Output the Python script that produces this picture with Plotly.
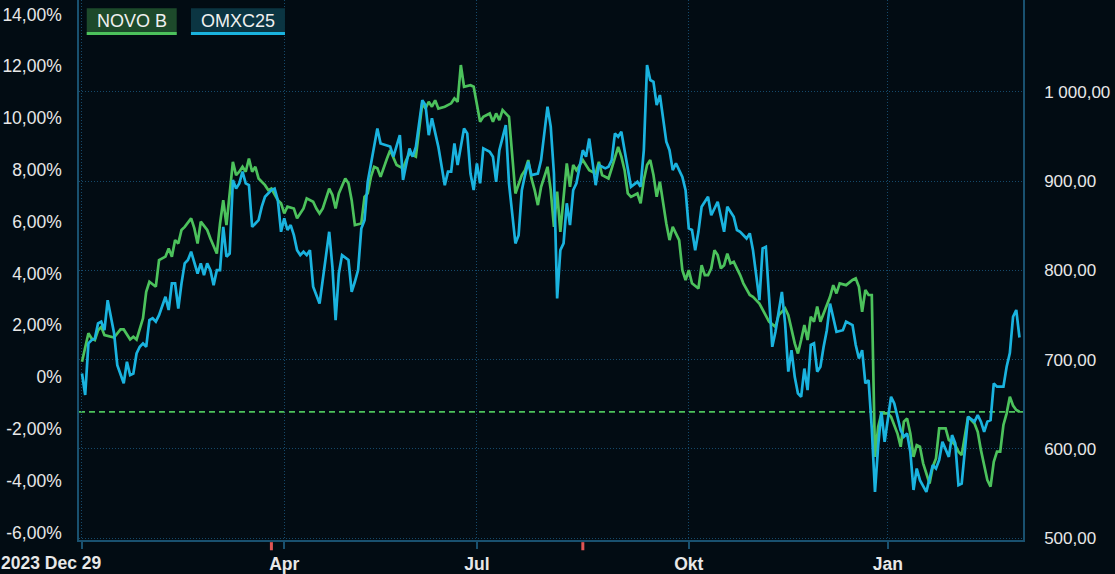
import plotly.graph_objects as go

# ---------------- data (trading-day index since 2023-12-29, % change) ----------------
novo_days = [0, 2, 3, 4, 5, 6, 7, 10, 12, 13, 15, 16, 17, 19, 20, 21, 23, 24, 26, 27, 28, 29, 30, 31, 32,
             34, 35, 36, 37, 39, 40, 42, 43, 44, 45, 47, 48, 49, 50, 51, 52, 53, 54, 55, 57, 58, 59, 60,
             61, 62, 63, 64, 66, 67, 69, 70, 72, 73, 74, 75, 77, 78, 79, 80, 82, 83, 84, 85, 87, 88, 89,
             90, 91, 92, 93, 95, 96, 98, 100, 101, 102, 104, 105, 106, 107, 108, 109, 110, 111, 113, 115,
             116, 117, 118, 119, 121, 122, 124, 125, 127, 128, 129, 130, 131, 133, 134, 135, 137, 138,
             139, 140, 141, 142, 143, 145, 146, 147, 148, 149, 151, 152, 153, 154, 156, 157, 158, 160,
             161, 162, 164, 165, 167, 168, 169, 170, 171, 173, 174, 175, 176, 177, 178, 179, 180, 182,
             183, 184, 186, 187, 188, 189, 190, 192, 193, 194, 195, 196, 197, 198, 199, 200, 201, 202,
             203, 205, 206, 208, 209, 211, 213, 214, 216, 217, 219, 220, 222, 223, 224, 225, 226, 227,
             228, 229, 230, 231, 233, 234, 235, 236, 238, 240, 241, 242, 243, 244, 245, 246, 247, 248,
             249, 251, 252, 254, 255, 256, 257, 258, 259, 260, 261, 262, 264, 265, 266, 267, 269, 270,
             271, 272, 273, 274, 275, 276, 278, 279, 280, 282, 283, 284, 285, 286, 287, 288, 289, 290,
             291, 292]
novo_pct = [0.59, 1.69, 1.49, 1.43, 1.81, 1.94, 1.62, 1.53, 1.84, 1.84, 1.45, 1.56, 1.45, 2.27, 3.29,
            3.68, 3.49, 4.52, 4.65, 4.97, 4.65, 5.29, 5.16, 5.68, 5.80, 6.13, 5.74, 5.16, 6.00, 5.68,
            5.35, 4.77, 5.93, 6.83, 5.87, 8.31, 7.80, 7.93, 8.12, 7.93, 8.44, 7.93, 8.12, 7.67, 7.41,
            7.22, 7.28, 7.03, 6.83, 6.71, 6.32, 6.58, 6.51, 6.13, 6.51, 6.90, 6.77, 6.51, 6.32, 6.51,
            7.28, 7.03, 6.51, 7.09, 7.67, 7.48, 6.83, 5.87, 5.93, 6.96, 7.09, 7.73, 8.12, 8.06, 7.73,
            8.44, 8.76, 8.19, 8.06, 8.38, 8.64, 8.51, 9.54, 10.57, 10.37, 10.63, 10.44, 10.69, 10.37,
            10.44, 10.57, 10.76, 10.63, 12.05, 11.21, 11.27, 11.21, 9.86, 10.05, 10.18, 9.86, 10.18,
            9.92, 10.31, 10.05, 8.38, 7.09, 7.80, 7.99, 8.38, 7.67, 7.22, 6.64, 7.35, 8.12, 7.22, 5.80,
            7.16, 5.61, 8.25, 7.35, 8.19, 7.99, 8.38, 8.19, 7.99, 7.86, 8.31, 7.80, 7.67, 8.06, 8.89,
            8.51, 7.99, 7.09, 6.96, 7.09, 6.71, 7.61, 8.19, 8.38, 7.80, 6.96, 7.54, 5.93, 5.29, 5.80,
            5.29, 4.13, 3.75, 4.13, 3.62, 3.42, 4.32, 3.94, 3.94, 4.20, 4.90, 4.71, 4.20, 4.32, 4.77,
            4.39, 4.45, 3.94, 3.62, 3.17, 3.10, 2.84, 2.39, 2.14, 1.94, 2.39, 2.65, 2.39, 1.30, 0.91,
            1.43, 2.01, 1.43, 2.33, 2.14, 2.72, 2.14, 2.46, 3.10, 3.55, 3.23, 3.62, 3.55, 3.75, 3.81,
            3.49, 2.52, 3.36, 3.17, 3.17, -3.08, -1.92, -1.40, -1.40, -1.53, -2.18, -2.69, -1.72,
            -1.60, -2.18, -3.08, -2.63, -2.69, -3.33, -4.11, -3.46, -3.14, -1.98, -1.98, -2.43, -2.50,
            -2.63, -2.88, -3.01, -2.18, -1.53, -1.79, -2.11, -2.82, -3.98, -4.23, -3.27, -2.88, -2.88,
            -1.85, -1.40, -0.76, -1.10, -1.27, -1.34]

omx_days = [0, 1, 2, 3, 4, 5, 6, 7, 8, 9, 10, 11, 13, 14, 15, 16, 17, 18, 19, 20, 21, 22, 23, 24, 26,
            27, 28, 29, 30, 31, 32, 33, 34, 36, 37, 38, 39, 40, 41, 42, 43, 44, 45, 46, 47, 48, 49, 50,
            51, 52, 53, 54, 55, 56, 57, 59, 60, 61, 62, 63, 64, 65, 66, 67, 68, 69, 70, 71, 72, 74, 75,
            77, 78, 79, 80, 81, 83, 84, 85, 86, 87, 88, 89, 90, 92, 93, 95, 96, 97, 99, 100, 102, 103,
            104, 106, 107, 108, 109, 111, 113, 114, 115, 116, 117, 119, 120, 121, 122, 123, 124, 125,
            127, 128, 129, 130, 132, 133, 135, 136, 137, 138, 139, 140, 142, 143, 145, 146, 147, 148,
            149, 150, 151, 152, 153, 154, 156, 157, 158, 160, 161, 163, 164, 165, 166, 167, 168, 169,
            170, 171, 173, 174, 175, 176, 177, 178, 179, 180, 182, 183, 184, 185, 187, 188, 189, 190,
            191, 192, 193, 195, 196, 198, 199, 200, 201, 203, 204, 205, 207, 208, 209, 210, 211, 212,
            213, 214, 215, 216, 217, 218, 219, 220, 221, 222, 223, 224, 225, 226, 227, 228, 229, 230,
            231, 232, 233, 234, 235, 237, 238, 240, 241, 242, 243, 244, 245, 246, 247, 248, 249, 250,
            252, 253, 254, 255, 256, 257, 258, 259, 260, 261, 263, 265, 266, 267, 268, 270, 271, 272,
            273, 274, 276, 278, 279, 280, 281, 282, 283, 284, 285, 287, 288, 289, 290, 291, 292]
omx_pct = [0.14, -0.69, 1.30, 1.43, 1.49, 2.07, 2.14, 1.81, 2.97, 2.27, 1.69, 0.46, -0.24, 0.59, 0.08,
           0.14, 0.91, 1.17, 1.30, 1.17, 2.20, 2.27, 2.14, 2.39, 3.10, 2.59, 3.62, 3.62, 2.65, 3.62,
           4.39, 4.52, 4.84, 4.00, 4.39, 3.94, 4.39, 4.13, 3.55, 4.13, 4.13, 5.80, 4.65, 4.77, 7.61,
           7.28, 7.48, 7.93, 7.48, 7.41, 5.80, 5.93, 6.06, 6.58, 6.96, 7.22, 7.28, 6.83, 5.61, 6.13,
           5.68, 5.87, 5.48, 4.90, 4.71, 4.84, 4.71, 4.90, 3.49, 2.84, 3.75, 5.61, 4.26, 2.20, 4.00,
           4.71, 4.52, 3.29, 3.68, 4.13, 5.74, 6.06, 7.54, 8.19, 9.60, 9.02, 8.96, 8.90, 8.51, 9.34,
           7.61, 8.83, 8.51, 8.89, 10.69, 10.50, 9.34, 9.99, 8.89, 7.41, 7.93, 7.93, 9.02, 8.19, 9.60,
           9.41, 7.86, 7.22, 8.25, 7.48, 8.83, 8.70, 8.51, 7.54, 8.76, 9.73, 7.48, 5.16, 5.48, 7.22,
           7.80, 8.31, 7.80, 7.86, 8.38, 10.44, 9.67, 7.86, 3.04, 4.90, 5.16, 6.71, 5.87, 7.22, 7.48,
           8.76, 8.51, 9.21, 7.41, 8.19, 8.06, 8.12, 8.38, 9.41, 9.28, 9.47, 8.76, 8.12, 7.35, 7.54,
           7.35, 8.76, 12.05, 11.47, 11.40, 10.50, 10.89, 9.09, 8.76, 7.99, 8.25, 7.73, 7.22, 5.74,
           5.68, 4.90, 5.61, 6.58, 6.96, 6.25, 6.77, 6.19, 5.61, 6.58, 6.19, 5.68, 5.61, 5.35, 5.55,
           4.90, 3.87, 2.97, 4.97, 5.03, 3.10, 1.17, 1.75, 2.46, 3.29, 2.07, 0.21, 1.04, 0.01, -0.63,
           -0.76, 0.33, -0.50, 1.24, 1.30, 0.21, 0.40, 1.17, 1.81, 2.84, 2.33, 1.75, 1.81, 2.14, 2.01,
           1.24, 0.72, 1.04, -0.24, -0.12, -1.98, -4.43, -2.63, -1.34, -2.50, -0.76, -1.02, -1.53,
           -2.05, -2.30, -2.18, -2.88, -4.36, -3.53, -3.98, -4.43, -3.40, -3.53, -3.20, -2.50, -3.08,
           -2.24, -2.56, -4.17, -4.11, -1.53, -1.72, -1.47, -1.72, -2.11, -1.72, -1.66, -0.24, -0.37,
           -0.37, 0.40, 0.93, 2.33, 2.59, 1.53]

series_names = ["NOVO B", "OMXC25"]

x_tick_days = [0, 63, 123, 189, 251]
x_tick_labels = ["", "Apr", "Jul", "Okt", "Jan"]
first_date_label = "2023 Dec 29"
dividend_days = [59, 156]

pct_ticks = [-6, -4, -2, 0, 2, 4, 6, 8, 10, 12, 14]
pct_labels = ["-6,00%", "-4,00%", "-2,00%", "0%", "2,00%", "4,00%", "6,00%", "8,00%",
              "10,00%", "12,00%", "14,00%"]
price_ticks = [500, 600, 700, 800, 900, 1000]
price_labels = ["500,00", "600,00", "700,00", "800,00", "900,00", "1 000,00"]

# ---------------- style ----------------
BG = "#020c13"
GREEN = "#4cc25c"
BLUE = "#1ab3df"
AXIS = "#19516f"
GRID = "#15496a"
TEXT = "#e8e8e8"
FONT = "Liberation Sans, Arial, sans-serif"

fig = go.Figure()
fig.add_trace(go.Scatter(x=novo_days, y=novo_pct, mode="lines", name=series_names[0],
                         line=dict(color=GREEN, width=2.7), hoverinfo="skip"))
fig.add_trace(go.Scatter(x=omx_days, y=omx_pct, mode="lines", name=series_names[1],
                         line=dict(color=BLUE, width=2.7), hoverinfo="skip"))
# carrier for the right-hand price axis
fig.add_trace(go.Scatter(x=[x_tick_days[0]], y=[price_ticks[0]], yaxis="y2", mode="markers",
                         marker=dict(opacity=0), showlegend=False, hoverinfo="skip"))

fig.update_layout(
    width=1115, height=574,
    margin=dict(l=79, r=92, t=0, b=34),
    paper_bgcolor=BG, plot_bgcolor=BG,
    showlegend=False,
    font=dict(family=FONT, color=TEXT, size=17),
    xaxis=dict(range=[-0.93, 293.1], tickvals=x_tick_days, ticktext=x_tick_labels,
               showgrid=True, gridcolor=GRID, griddash="1px,2px", gridwidth=1,
               showline=True, linecolor=AXIS, linewidth=1.5,
               ticks="outside", ticklen=7, tickcolor=AXIS, tickwidth=1.5,
               tickfont=dict(size=17.5, weight="bold", color=TEXT),
               zeroline=False, fixedrange=True),
    yaxis=dict(range=[-6.29, 14.56], tickvals=pct_ticks, ticktext=pct_labels,
               showgrid=False, zeroline=False, showline=True, linecolor=AXIS, linewidth=1.5,
               ticks="", ticklabelstandoff=12, tickfont=dict(size=17.5, color=TEXT)),
    yaxis2=dict(range=[497.76, 1103.1], tickvals=price_ticks, ticktext=price_labels,
                overlaying="y", side="right", anchor="x",
                showgrid=True, gridcolor=GRID, griddash="1px,2px", gridwidth=1,
                zeroline=False, showline=True, linecolor=AXIS, linewidth=1.5,
                ticks="", ticklabelstandoff=16, tickfont=dict(size=17, color=TEXT)),
)

shapes = []
# last-price dashed line for NOVO B
shapes.append(dict(type="line", xref="paper", x0=0, x1=1, yref="y", y0=novo_pct[-1], y1=novo_pct[-1],
                   line=dict(color=GREEN, width=1.7, dash="6px,4px"), layer="below"))
# dividend markers under the x axis
for d in dividend_days:
    shapes.append(dict(type="line", xref="x", x0=d, x1=d, yref="paper", y0=-0.004, y1=-0.019,
                       line=dict(color="#e05555", width=3)))
# legend boxes
legend_boxes = [
    (0.0082, 0.1035, "#1d4a2b", GREEN),
    (0.1186, 0.2182, "#0b3542", BLUE),
]
for (x0, x1, bg, col), name in zip(legend_boxes, series_names):
    shapes.append(dict(type="rect", xref="paper", yref="paper", x0=x0, x1=x1, y0=0.9352, y1=0.9846,
                       fillcolor=bg, line=dict(width=0), layer="above"))
    shapes.append(dict(type="rect", xref="paper", yref="paper", x0=x0, x1=x1, y0=0.9352, y1=0.9407,
                       fillcolor=col, line=dict(width=0), layer="above"))
fig.update_layout(shapes=shapes)

annotations = []
for (x0, x1, bg, col), name in zip(legend_boxes, series_names):
    annotations.append(dict(text=name, xref="paper", yref="paper", x=(x0 + x1) / 2, y=0.962,
                            xanchor="center", yanchor="middle", showarrow=False,
                            font=dict(size=18, color="#f0f0f0", family=FONT)))
annotations.append(dict(text=first_date_label, xref="x", yref="paper", x=x_tick_days[0], y=-0.0426,
                        xanchor="right", yanchor="middle", xshift=21, showarrow=False,
                        font=dict(size=17.5, color=TEXT, family=FONT, weight="bold")))
fig.update_layout(annotations=annotations)

fig.write_html("out.html", config={"displayModeBar": False},
               post_script="document.body.style.margin='0';")
